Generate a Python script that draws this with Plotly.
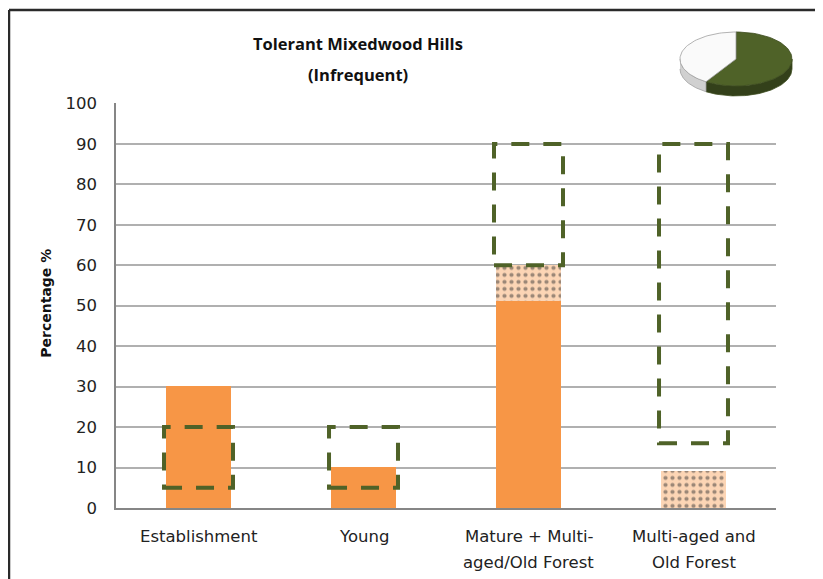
import numpy as np
import plotly.graph_objects as go

# ---------------- data ----------------
categories = ["Establishment", "Young", "Mature + Multi-<br>aged/Old Forest", "Multi-aged and<br>Old Forest"]
current_solid = [30, 10, 51, 0]
current_dotted = [0, 0, 9, 9]
range_low = [5, 5, 60, 16]
range_high = [20, 20, 90, 90]
pie_values = [59, 41]  # green, white
y_ticks = [0, 10, 20, 30, 40, 50, 60, 70, 80, 90, 100]

# ---------------- layout geometry (reference pixel coords; page body adds 8px offset) ----------------
OFF = 8
W, H = 823, 579
plot_left, plot_right, plot_top, plot_bottom = 116, 776, 103.5, 508.5
ML = plot_left - OFF
MB = H - (plot_bottom - OFF)
MT, MR = 20, 12
PW, PH = W - ML - MR, H - MT - MB
x_dom_end = (plot_right - plot_left) / PW
y_dom_end = (plot_bottom - plot_top) / PH

def px2x(px):
    return (px - plot_left) / PW

def py2y(py):
    return (plot_bottom - py) / PH

xs = list(range(len(categories)))
ORANGE = "#f79646"
GREEN = "#4f6228"
TXT = "#222222"

fig = go.Figure()
fig.add_trace(go.Bar(x=xs, y=current_solid, width=0.394, marker=dict(color=ORANGE, line=dict(width=0)),
                     showlegend=False, hoverinfo="skip"))
fig.add_trace(go.Bar(x=xs, y=current_dotted, width=0.394,
                     marker=dict(color="#fcd5b5", line=dict(width=0),
                                 pattern=dict(shape=".", fgcolor="#3a3a3a", bgcolor="#fcd5b5",
                                              size=7, solidity=0.28, fillmode="overlay")),
                     showlegend=False, hoverinfo="skip"))

# dashed range boxes
for i, (lo, hi) in enumerate(zip(range_low, range_high)):
    fig.add_shape(type="rect", xref="x", yref="y", x0=xs[i] - 0.209, x1=xs[i] + 0.209, y0=lo, y1=hi,
                  line=dict(color=GREEN, width=4, dash="18px,14px"), layer="above")

# ---------------- 3D-ish pie (computed from pie_values) ----------------
pie_px = (676, 800)   # reference x extent of the pie box
pie_py = (29, 101)    # reference y extent of the pie box
hx = (pie_px[1] - pie_px[0]) / 2
hy = (pie_py[1] - pie_py[0]) / 2
cx = 736 - (pie_px[0] + hx)
cy = (pie_py[0] + hy) - 59
rx, ry, depth = 56, 27, 10
total = sum(pie_values)
start = 90.0
slices = []
for v in pie_values:
    end = start - 360.0 * v / total
    slices.append((end, start))
    start = end

def arc(t0, t1, n=60):
    t = np.radians(np.linspace(t0, t1, n))
    return cx + rx * np.cos(t), cy + ry * np.sin(t)

side_cols = ["#33401a", "#d0d0d0"]
top_cols = [GREEN, "#fafafa"]
line_cols = ["#3d4c1f", "#a0a0a0"]
for k, (a0, a1) in enumerate(slices):
    lo, hi = max(a0, -180), min(a1, 0)
    if hi > lo:
        ex, ey = arc(lo, hi)
        px_ = np.concatenate([ex, ex[::-1]])
        py_ = np.concatenate([ey, ey[::-1] - depth])
        fig.add_trace(go.Scatter(x=px_, y=py_, xaxis="x2", yaxis="y2", mode="lines", fill="toself",
                                 fillcolor=side_cols[k], line=dict(color=line_cols[k], width=0.8),
                                 showlegend=False, hoverinfo="skip"))
for k, (a0, a1) in enumerate(slices):
    ex, ey = arc(a0, a1)
    px_ = np.concatenate([[cx], ex, [cx]])
    py_ = np.concatenate([[cy], ey, [cy]])
    fig.add_trace(go.Scatter(x=px_, y=py_, xaxis="x2", yaxis="y2", mode="lines", fill="toself",
                             fillcolor=top_cols[k], line=dict(color=line_cols[k], width=0.8),
                             showlegend=False, hoverinfo="skip"))

TICKFONT = "DejaVu Sans"
TITLEFONT = "Open Sans"
fig.update_layout(
    width=W, height=H,
    margin=dict(l=ML, r=MR, t=MT, b=MB, autoexpand=False),
    paper_bgcolor="white", plot_bgcolor="white",
    barmode="stack", bargap=0,
    font=dict(family=TICKFONT, size=15, color=TXT),
    xaxis=dict(domain=[0, x_dom_end], range=[-0.5, 3.5], tickvals=xs, showticklabels=False,
               showgrid=False, zeroline=False, showline=True, linecolor="#868686", linewidth=1.5,
               ticks="", fixedrange=True, automargin=False),
    yaxis=dict(domain=[0, y_dom_end], range=[0, 100], tickvals=y_ticks, showgrid=True,
               gridcolor="#b0b0b0", gridwidth=1.5, zeroline=False, showline=True,
               linecolor="#868686", linewidth=1.5, ticks="", ticklabelstandoff=14,
               tickfont=dict(size=16.5, family=TICKFONT, color=TXT), fixedrange=True, automargin=False),
    xaxis2=dict(domain=[px2x(pie_px[0]), px2x(pie_px[1])], range=[-hx, hx], visible=False, anchor="y2",
                fixedrange=True, automargin=False),
    yaxis2=dict(domain=[py2y(pie_py[1]), py2y(pie_py[0])], range=[-hy, hy], visible=False, anchor="x2",
                fixedrange=True, automargin=False),
)

# category labels (two lines, positioned on the category axis)
for i, cat in enumerate(categories):
    for j, line in enumerate(cat.split("<br>")):
        fig.add_annotation(text=line, xref="x", yref="paper", x=xs[i], y=py2y(537 + 26 * j),
                           xanchor="center", yanchor="middle", showarrow=False,
                           font=dict(family=TICKFONT, size=16.5, color=TXT))

# y axis title
fig.add_annotation(text="<b>Percentage %</b>", xref="paper", yref="paper", x=px2x(46), y=py2y(304),
                   xanchor="center", yanchor="middle", showarrow=False, textangle=-90,
                   font=dict(family=TICKFONT, size=14, color="#111111"))

# chart title (two lines)
for j, t in enumerate(["Tolerant Mixedwood Hills", "(Infrequent)"]):
    fig.add_annotation(text="<b>" + t + "</b>", xref="paper", yref="paper", x=px2x(358), y=py2y(44 + 31 * j),
                       xanchor="center", yanchor="middle", showarrow=False,
                       font=dict(family=TITLEFONT, size=16.5, color="#111111"))

# chart frame (left and top border)
fig.add_shape(type="line", xref="paper", yref="paper", x0=px2x(9), x1=px2x(9), y0=py2y(10), y1=py2y(600),
              line=dict(color="#2a2a2a", width=2.5))
fig.add_shape(type="line", xref="paper", yref="paper", x0=px2x(9), x1=px2x(840), y0=py2y(10), y1=py2y(10),
              line=dict(color="#2a2a2a", width=2.5))

fig.write_html("out.html")
